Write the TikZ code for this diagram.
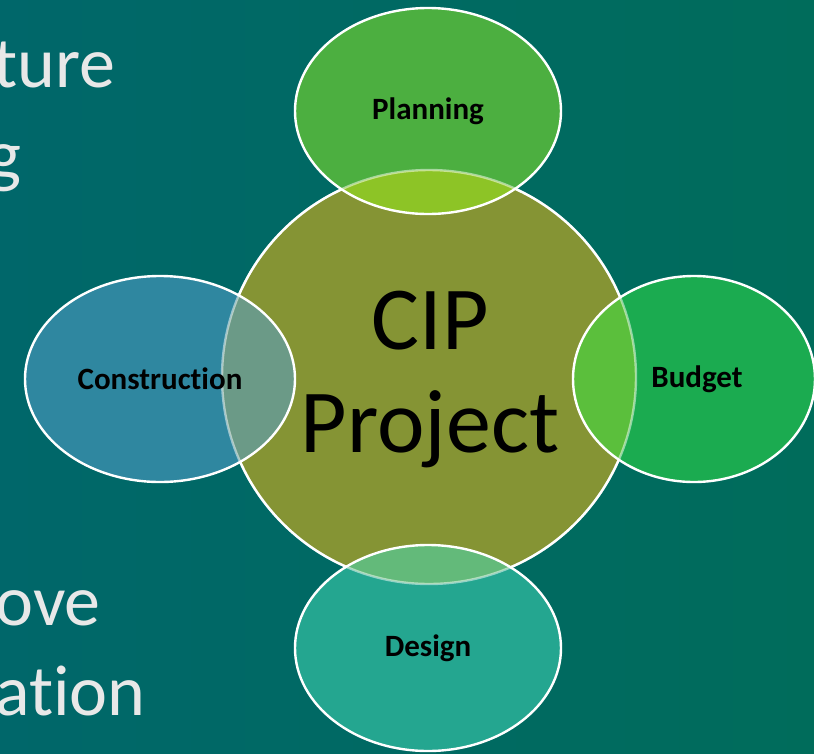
\documentclass[tikz,border=0pt]{standalone}
\usepackage{fontspec}
\setmainfont{Carlito}[Ligatures={NoCommon}]
\definecolor{bgA}{HTML}{00676A}
\definecolor{bgB}{HTML}{006C5B}
\definecolor{sidetext}{HTML}{E8E8E8}
\definecolor{cipfill}{HTML}{859434}
\definecolor{planfill}{HTML}{4CAF40}
\definecolor{planover}{HTML}{8DC426}
\definecolor{consfill}{HTML}{2F87A0}
\definecolor{consover}{HTML}{6B9A87}
\definecolor{budfill}{HTML}{1BAB50}
\definecolor{budover}{HTML}{5BBF3C}
\definecolor{desfill}{HTML}{24A690}
\definecolor{desover}{HTML}{63BA7A}
\tikzset{
  sidelabel/.style={text=sidetext, font=\fontsize{72}{72}\selectfont, inner sep=0pt, anchor=base east},
  partlabel/.style={font=\fontsize{31}{31}\selectfont\bfseries, text=black, inner sep=0pt},
  rim/.style={draw=white, line width=2.4pt},
  softrim/.style={draw=white, draw opacity=0.5, line width=2.4pt}
}
\begin{document}
\begin{tikzpicture}[x=1pt,y=-1pt]
\useasboundingbox (0,0) rectangle (814,753);
\shade[left color=bgA, right color=bgB] (0,0) rectangle (814,753);
% side texts
\node[sidelabel] (t1) at (116,87) {ture};
\node[sidelabel] (t2) at (22,179) {g};
\node[sidelabel] (t3) at (101,625) {ove};
\node[sidelabel] (t4) at (146,715) {ation};
% central circle
\coordinate (cc) at (429,377);
\fill[cipfill] (cc) circle (207pt);
% ellipses fill
\coordinate (pc) at (428,111);
\coordinate (kc) at (160,379);
\coordinate (bc) at (694,379);
\coordinate (dc) at (428,648);
\fill[planfill] (pc) ellipse [x radius=133pt, y radius=103pt];
\fill[consfill] (kc) ellipse [x radius=135pt, y radius=103pt];
\fill[budfill] (bc) ellipse [x radius=121pt, y radius=103pt];
\fill[desfill] (dc) ellipse [x radius=133pt, y radius=103pt];
% overlaps
\begin{scope}
  \clip (cc) circle (207pt);
  \fill[planover] (pc) ellipse [x radius=133pt, y radius=103pt];
  \fill[consover] (kc) ellipse [x radius=135pt, y radius=103pt];
  \fill[budover] (bc) ellipse [x radius=121pt, y radius=103pt];
  \fill[desover] (dc) ellipse [x radius=133pt, y radius=103pt];
\end{scope}
% circle rim: solid outside ellipses, soft inside
\begin{scope}[even odd rule]
  \clip (0,0) rectangle (814,753)
    (pc) ellipse [x radius=133pt, y radius=103pt];
  \begin{scope}
    \clip (0,0) rectangle (814,753)
      (kc) ellipse [x radius=135pt, y radius=103pt];
    \begin{scope}
      \clip (0,0) rectangle (814,753)
        (bc) ellipse [x radius=121pt, y radius=103pt];
      \begin{scope}
        \clip (0,0) rectangle (814,753)
          (dc) ellipse [x radius=133pt, y radius=103pt];
        \draw[rim] (cc) circle (207pt);
      \end{scope}
    \end{scope}
  \end{scope}
\end{scope}
\draw[softrim] (cc) circle (207pt);
% ellipse rims
\draw[rim] (pc) ellipse [x radius=133pt, y radius=103pt];
\draw[rim] (kc) ellipse [x radius=135pt, y radius=103pt];
\draw[rim] (bc) ellipse [x radius=121pt, y radius=103pt];
\draw[rim] (dc) ellipse [x radius=133pt, y radius=103pt];
% labels
\node[partlabel] (plan) at (pc) {Planning};
\node[partlabel] (cons) at (kc) {Construction};
\node[partlabel] (bud) at (697,379) {Budget};
\node[partlabel] (des) at (dc) {Design};
\node[font=\fontsize{90}{103}\selectfont, text=black, align=center, inner sep=0pt] (cip) at (430,380) {CIP\\Project};
\end{tikzpicture}
\end{document}
